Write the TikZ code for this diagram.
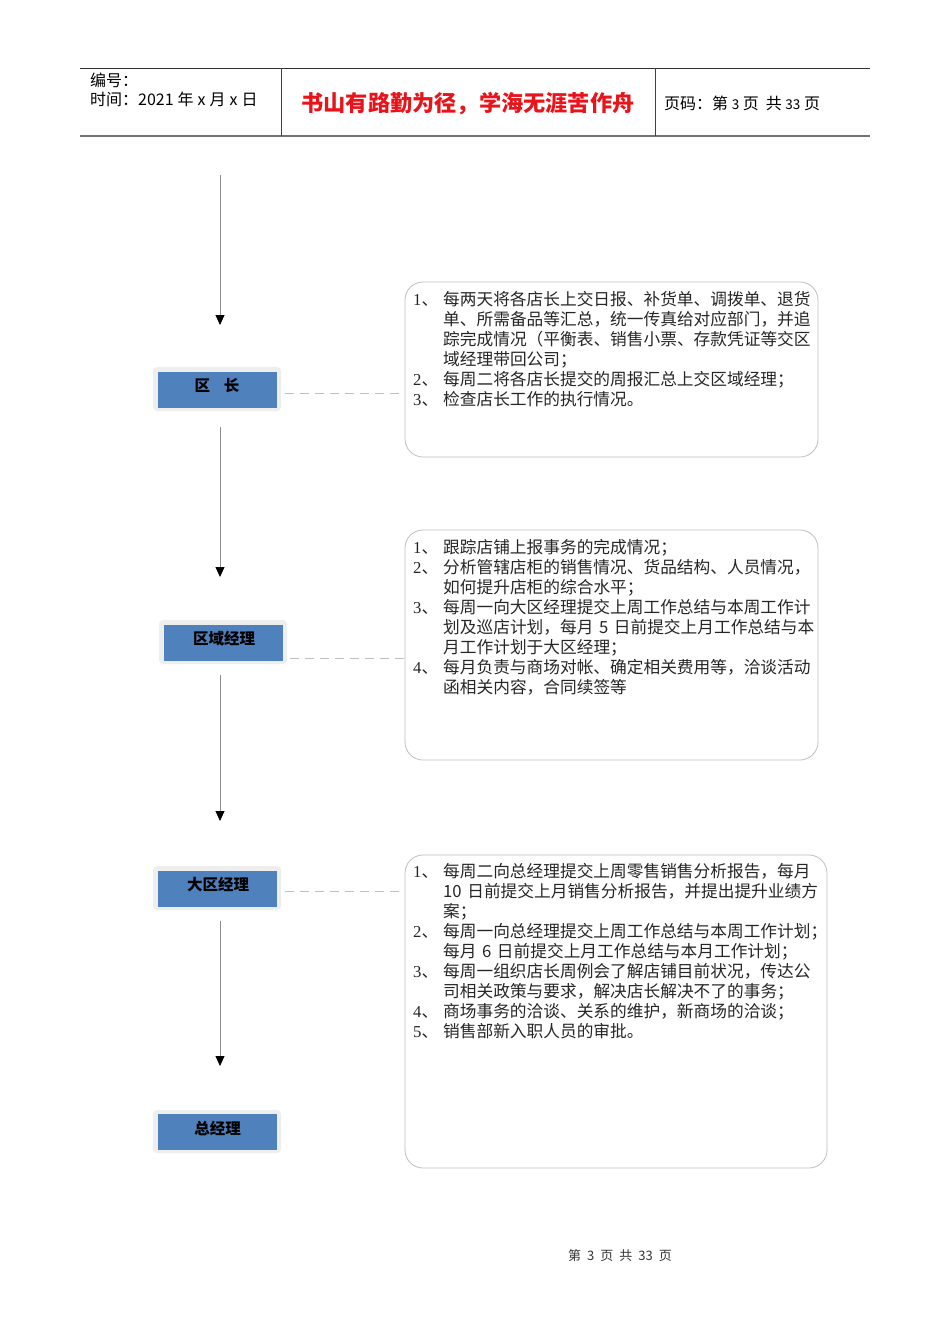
\documentclass[tikz,border=0pt]{standalone}
\usepackage{fontspec}
\setmainfont{Noto Sans CJK SC}
\newfontfamily\ser{Liberation Serif}
\usetikzlibrary{arrows.meta}
\definecolor{boxblue}{HTML}{4F81BD}
\definecolor{boxrim}{HTML}{EEEEEE}
\definecolor{lightline}{HTML}{BFBFBF}
\definecolor{flowline}{HTML}{8C8C8C}
\definecolor{titlered}{HTML}{E8141B}
\newcommand{\itm}[1]{\makebox[30pt][l]{{\ser #1}、}}
\newcommand{\cnt}{\hspace*{30pt}}
\begin{document}
\begin{tikzpicture}[x=1pt,y=-1pt,
  rim/.style={fill=boxrim,rounded corners=4pt},
  rolebox/.style={fill=boxblue,minimum width=119pt,minimum height=36pt,inner sep=0,text=black},
  roletext/.style={inner sep=0,font=\fontsize{15.5}{18}\selectfont\bfseries,text=black},
  flow/.style={draw=flowline,line width=0.8pt,-{Triangle[length=10pt,width=9pt,color=black,fill=black]}},
  dashlink/.style={draw=lightline,line width=0.8pt,dash pattern=on 9pt off 6pt},
  duty/.style={draw=lightline,line width=0.8pt,rounded corners=18pt},
  dutytext/.style={anchor=base west,inner sep=0,text width=430pt,align=left,
     font=\fontsize{16.7}{20.1}\selectfont,text=black!85},
  hdrtext/.style={inner sep=0,font=\fontsize{16}{19}\selectfont,text=black}
]
\useasboundingbox (0,0) rectangle (950,1344);
\fill[white] (0,0) rectangle (950,1344);

% header
\draw[black!80,line width=0.9pt] (80,68) -- (870,68);
\draw[black!55,line width=1.8pt] (80,136) -- (870,136);
\draw[black!75,line width=0.8pt] (281,68) -- (281,136);
\draw[black!75,line width=0.8pt] (655,68) -- (655,136);
\node[hdrtext,anchor=base west] (h1) at (90,86) {编号：};
\node[hdrtext,anchor=base west] (h2) at (90,105) {时间：2021\hspace{4pt}年\hspace{4pt}x\hspace{4pt}月\hspace{4pt}x\hspace{4pt}日};
\node[inner sep=0,font=\fontsize{22.2}{24}\selectfont\bfseries,text=titlered] (title) at (468,104) {书山有路勤为径，学海无涯苦作舟};
\node[hdrtext,anchor=base west] (h3) at (664,109) {页码：第 {\fontsize{13.5}{15}\selectfont 3} 页\hspace{7pt}共 {\fontsize{13.5}{15}\selectfont 33} 页};

% role boxes
\fill[rim] (153,367) rectangle (281,411);
\node[rolebox] (r1) at (217,390) {};
\node[roletext] (l1) at (217,386) {区\hspace{14pt}长};
\fill[rim] (159,620) rectangle (287,664);
\node[rolebox] (r2) at (223,642.5) {};
\node[roletext] (l2) at (224,639) {区域经理};
\fill[rim] (153,866) rectangle (281,910);
\node[rolebox] (r3) at (217.5,888.5) {};
\node[roletext] (l3) at (218,885) {大区经理};
\fill[rim] (153,1110) rectangle (281,1153);
\node[rolebox] (r4) at (217.5,1132) {};
\node[roletext] (l4) at (217.5,1128) {总经理};

% flow arrows
\coordinate (s1) at (220,175);
\coordinate (e1) at (220,325);
\coordinate (s2) at (220,427);
\coordinate (e2) at (220,577);
\coordinate (s3) at (220,675);
\coordinate (e3) at (220,821);
\coordinate (s4) at (220,921);
\coordinate (e4) at (220,1066);
\draw[flow] (s1) -- (e1);
\draw[flow] (s2) -- (e2);
\draw[flow] (s3) -- (e3);
\draw[flow] (s4) -- (e4);

% duty boxes
\draw[duty] (405,282) rectangle (818,457);
\draw[duty] (405,530) rectangle (818,760);
\draw[duty] (405,855) rectangle (827,1168);
\coordinate (d1) at (405,393);
\coordinate (d2) at (405,658);
\coordinate (d3) at (405,891);
\draw[dashlink] (285,393) -- (d1);
\draw[dashlink] (290,658) -- (d2);
\draw[dashlink] (285,891) -- (d3);

\node[dutytext] (t1) at (413,305) {\itm{1}每两天将各店长上交日报、补货单、调拨单、退货\\
\cnt 单、所需备品等汇总，统一传真给对应部门，并追\\
\cnt 踪完成情况（平衡表、销售小票、存款凭证等交区\\
\cnt 域经理带回公司；\\
\itm{2}每周二将各店长提交的周报汇总上交区域经理；\\
\itm{3}检查店长工作的执行情况。};

\node[dutytext] (t2) at (413,553) {\itm{1}跟踪店铺上报事务的完成情况；\\
\itm{2}分析管辖店柜的销售情况、货品结构、人员情况，\\
\cnt 如何提升店柜的综合水平；\\
\itm{3}每周一向大区经理提交上周工作总结与本周工作计\\
\cnt 划及巡店计划，每月 5 日前提交上月工作总结与本\\
\cnt 月工作计划于大区经理；\\
\itm{4}每月负责与商场对帐、确定相关费用等，洽谈活动\\
\cnt 函相关内容，合同续签等};

\node[dutytext] (t3) at (413,877) {\itm{1}每周二向总经理提交上周零售销售分析报告，每月\\
\cnt 10 日前提交上月销售分析报告，并提出提升业绩方\\
\cnt 案；\\
\itm{2}每周一向总经理提交上周工作总结与本周工作计划；\\
\cnt 每月 6 日前提交上月工作总结与本月工作计划；\\
\itm{3}每周一组织店长周例会了解店铺目前状况，传达公\\
\cnt 司相关政策与要求，解决店长解决不了的事务；\\
\itm{4}商场事务的洽谈、关系的维护，新商场的洽谈；\\
\itm{5}销售部新入职人员的审批。};

% footer
\node[inner sep=0,font=\fontsize{13}{15}\selectfont,text=black!80] (foot) at (620,1256) {第\hspace{6pt}3\hspace{6pt}页\hspace{6pt}共\hspace{6pt}33\hspace{6pt}页};
\end{tikzpicture}
\end{document}
